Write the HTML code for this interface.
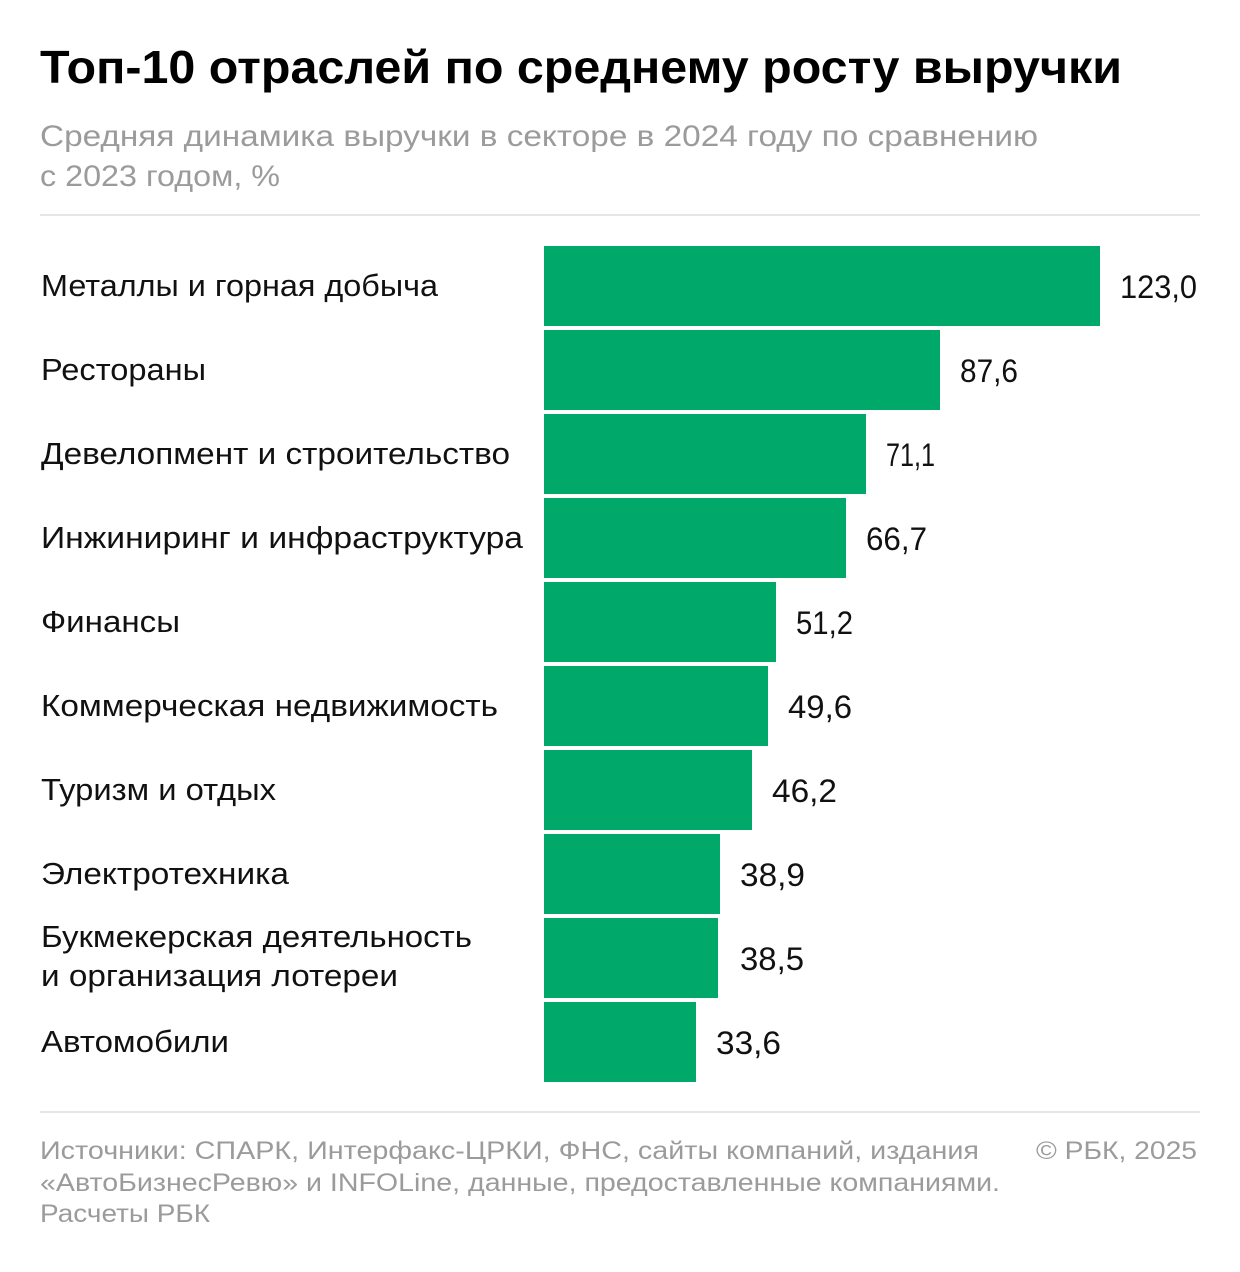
<!DOCTYPE html>
<html><head><meta charset="utf-8"><style>
html,body{margin:0;padding:0;background:#fff;}
svg{display:block;}
text{font-family:"Liberation Sans",Arial,sans-serif;}
</style></head><body>
<svg width="1240" height="1272" viewBox="0 0 1240 1272" xmlns="http://www.w3.org/2000/svg">
<rect x="0" y="0" width="1240" height="1272" fill="#fff"/>
<text x="40" y="83" font-size="46" font-weight="bold" fill="#000" textLength="1082" lengthAdjust="spacingAndGlyphs">Топ-10 отраслей по среднему росту выручки</text>
<text x="40" y="146" font-size="29.5" fill="#9b9b9b" textLength="998" lengthAdjust="spacingAndGlyphs">Средняя динамика выручки в секторе в 2024 году по сравнению</text>
<text x="40" y="186" font-size="29.5" fill="#9b9b9b" textLength="240" lengthAdjust="spacingAndGlyphs">с 2023 годом, %</text>
<rect x="40" y="214" width="1160" height="2" fill="#e6e6e6"/>

<g fill="#00A86A">
<rect x="544" y="246" width="556" height="80"/>
<rect x="544" y="330" width="396" height="80"/>
<rect x="544" y="414" width="322" height="80"/>
<rect x="544" y="498" width="302" height="80"/>
<rect x="544" y="582" width="232" height="80"/>
<rect x="544" y="666" width="224" height="80"/>
<rect x="544" y="750" width="208" height="80"/>
<rect x="544" y="834" width="176" height="80"/>
<rect x="544" y="918" width="174" height="80"/>
<rect x="544" y="1002" width="152" height="80"/>
</g>

<g font-size="30.5" fill="#111">
<text x="41" y="296" textLength="397" lengthAdjust="spacingAndGlyphs">Металлы и горная добыча</text>
<text x="41" y="380" textLength="165" lengthAdjust="spacingAndGlyphs">Рестораны</text>
<text x="41" y="464" textLength="469" lengthAdjust="spacingAndGlyphs">Девелопмент и строительство</text>
<text x="41" y="548" textLength="482" lengthAdjust="spacingAndGlyphs">Инжиниринг и инфраструктура</text>
<text x="41" y="632" textLength="139" lengthAdjust="spacingAndGlyphs">Финансы</text>
<text x="41" y="716" textLength="457" lengthAdjust="spacingAndGlyphs">Коммерческая недвижимость</text>
<text x="41" y="800" textLength="235" lengthAdjust="spacingAndGlyphs">Туризм и отдых</text>
<text x="41" y="884" textLength="248" lengthAdjust="spacingAndGlyphs">Электротехника</text>
<text x="41" y="947" textLength="431" lengthAdjust="spacingAndGlyphs">Букмекерская деятельность</text>
<text x="41" y="986" textLength="357" lengthAdjust="spacingAndGlyphs">и организация лотереи</text>
<text x="41" y="1052" textLength="188" lengthAdjust="spacingAndGlyphs">Автомобили</text>
</g>

<g font-size="32" fill="#111">
<text x="1120" y="298" textLength="77" lengthAdjust="spacingAndGlyphs">123,0</text>
<text x="960" y="382" textLength="58" lengthAdjust="spacingAndGlyphs">87,6</text>
<text x="886" y="466" textLength="49" lengthAdjust="spacingAndGlyphs">71,1</text>
<text x="866" y="550" textLength="61" lengthAdjust="spacingAndGlyphs">66,7</text>
<text x="796" y="634" textLength="57" lengthAdjust="spacingAndGlyphs">51,2</text>
<text x="788" y="718" textLength="64" lengthAdjust="spacingAndGlyphs">49,6</text>
<text x="772" y="802" textLength="65" lengthAdjust="spacingAndGlyphs">46,2</text>
<text x="740" y="886" textLength="65" lengthAdjust="spacingAndGlyphs">38,9</text>
<text x="740" y="970" textLength="64" lengthAdjust="spacingAndGlyphs">38,5</text>
<text x="716" y="1054" textLength="65" lengthAdjust="spacingAndGlyphs">33,6</text>
</g>

<rect x="40" y="1111" width="1160" height="2" fill="#e6e6e6"/>
<g font-size="25" fill="#9b9b9b">
<text x="40" y="1159" textLength="939" lengthAdjust="spacingAndGlyphs">Источники: СПАРК, Интерфакс-ЦРКИ, ФНС, сайты компаний, издания</text>
<text x="1036" y="1159" textLength="161" lengthAdjust="spacingAndGlyphs">© РБК, 2025</text>
<text x="40" y="1191" textLength="960" lengthAdjust="spacingAndGlyphs">«АвтоБизнесРевю» и INFOLine, данные, предоставленные компаниями.</text>
<text x="40" y="1222" textLength="170" lengthAdjust="spacingAndGlyphs">Расчеты РБК</text>
</g>
</svg>
</body></html>
